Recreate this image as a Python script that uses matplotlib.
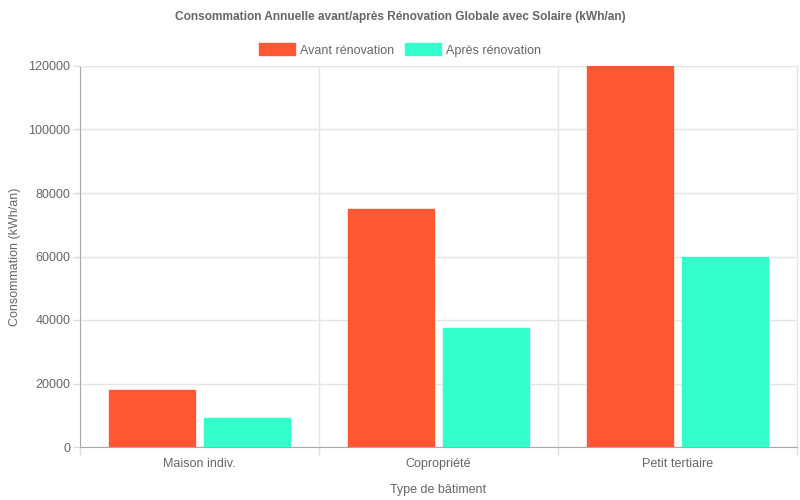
import matplotlib
matplotlib.use("Agg")
import matplotlib.pyplot as plt
from matplotlib.patches import Patch
import numpy as np

categories = ["Maison indiv.", "Copropriété", "Petit tertiaire"]
avant = [18000, 75000, 120000]
apres = [9000, 37500, 60000]
series_labels = ["Avant rénovation", "Après rénovation"]
colors = ["#FF5733", "#33FFCC"]
title = "Consommation Annuelle avant/après Rénovation Globale avec Solaire (kWh/an)"

plt.rcParams['font.family'] = ['Liberation Sans', 'DejaVu Sans']
TXT = "#666666"

fig = plt.figure(figsize=(8, 5), dpi=100)
ax = fig.add_axes([80/800, 53/500, 717/800, 381/500])

x = np.arange(len(categories))
slot = 0.8 / 2
bw = slot * 0.9
ax.bar(x - slot/2, avant, width=bw, color=colors[0], edgecolor="#FF5733", linewidth=1, zorder=3)
ax.bar(x + slot/2, apres, width=bw, color=colors[1], edgecolor="#33FFCC", linewidth=1, zorder=3)

ax.set_xlim(-0.5, len(categories) - 0.5)
ax.set_ylim(0, 120000)
ax.set_yticks(np.arange(0, 120001, 20000))
ax.set_xticks(x)
ax.set_xticklabels(categories)
ax.set_xticks(np.arange(-0.5, len(categories), 1.0), minor=True)

ax.tick_params(axis='x', which='major', length=0, pad=8, labelsize=9, labelcolor=TXT)
ax.tick_params(axis='x', which='minor', length=6, color="#dddddd", width=1)
ax.tick_params(axis='y', which='major', length=5, color="#dddddd", width=1, pad=2, labelsize=9, labelcolor=TXT)

ax.grid(axis='y', which='major', color="#e5e5e5", linewidth=1, zorder=0)
ax.grid(axis='x', which='minor', color="#e5e5e5", linewidth=1, zorder=0)

for s in ['top', 'right']:
    ax.spines[s].set_color("#e5e5e5")
for s in ['left', 'bottom']:
    ax.spines[s].set_color("#aaaaaa")

ax.set_xlabel("Type de bâtiment", fontsize=9, color=TXT, labelpad=10)
ax.set_ylabel("Consommation (kWh/an)", fontsize=9, color=TXT, labelpad=5)

fig.text(0.5, 1 - 17/500, title, ha='center', va='center', fontsize=8.6, fontweight='bold', color=TXT)

handles = [Patch(facecolor=colors[0], edgecolor=colors[0]), Patch(facecolor=colors[1], edgecolor=colors[1])]
fig.legend(handles, series_labels, loc='center', bbox_to_anchor=(0.5, 1 - 50/500), ncol=2,
           frameon=False, fontsize=9, labelcolor=TXT, handlelength=2.9, handleheight=1.1,
           handletextpad=0.4, columnspacing=0.8)

fig.savefig("out.png", dpi=100)
